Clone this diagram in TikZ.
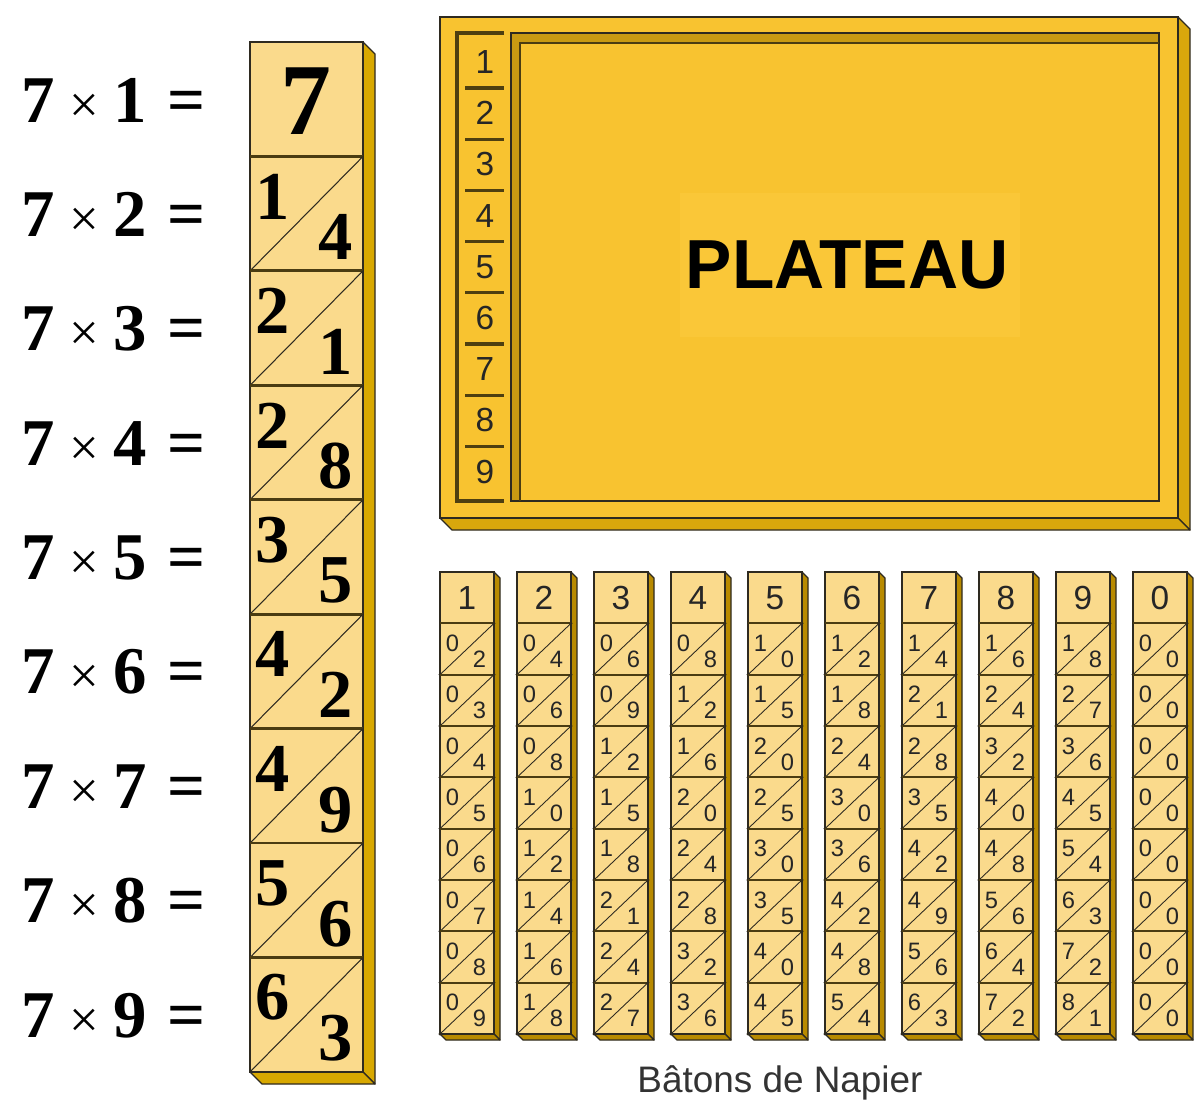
\documentclass[tikz,border=0pt]{standalone}
\usepackage{fontspec}
\newfontfamily\lsans{Liberation Sans}
\newfontfamily\lserif{Liberation Serif}
\definecolor{stickface}{HTML}{FADA8C}
\definecolor{stickside}{HTML}{D8A800}
\definecolor{smallside}{HTML}{B88A00}
\definecolor{plate}{HTML}{F8C330}
\definecolor{platehi}{HTML}{FAC738}
\definecolor{plateside}{HTML}{D8A70C}
\definecolor{groove}{HTML}{C99A12}
\definecolor{sepline}{HTML}{4A3C12}
\definecolor{stripcol}{HTML}{4E3F10}
\definecolor{outline}{HTML}{2E2A20}
\tikzset{
  face/.style={fill=stickface, draw=outline, line width=0.9pt},
  sideface/.style={fill=stickside, draw=outline, line width=0.7pt, line join=round},
  bigsep/.style={draw=sepline, line width=1.6pt},
  smallsep/.style={draw=sepline, line width=1.1pt},
  diag/.style={draw=outline, line width=0.6pt},
  stripline/.style={draw=stripcol, line width=1.8pt},
  lbl/.style={font=\lserif\bfseries\fontsize{38}{40}\selectfont, anchor=west, inner sep=0pt},
  bigdig/.style={font=\lserif\bfseries\fontsize{39}{40}\selectfont, inner sep=0pt},
  smalldig/.style={font=\lsans\fontsize{13.5}{14}\selectfont, inner sep=0pt, text=black!85},
  headdig/.style={font=\lsans\fontsize{19}{20}\selectfont, inner sep=0pt, text=black!85},
}
\newcommand{\smalltimes}{{\mdseries\fontsize{30}{32}\selectfont ×}}
\begin{document}
\begin{tikzpicture}[x=0.02cm,y=-0.02cm]
\useasboundingbox (0,0) rectangle (1200,1112);

% ---------- left labels ----------
\foreach \rr in {1,...,9} {
  \node[lbl] (lab\rr) at (21,{100+114.44*(\rr-1)}) {7\hspace{0.22em}\smalltimes\hspace{0.22em}\rr\hspace{0.3em}=};
}

% ---------- big stick ----------
\path[sideface] (363,42) -- (375,54) -- (375,1084) -- (363,1072) -- cycle;
\path[sideface] (250,1072) -- (262,1084) -- (375,1084) -- (363,1072) -- cycle;
\path[face] (250,42) rectangle (363,1072);
\foreach \rr in {1,...,8} {
  \draw[bigsep] (250,{42+114.44*\rr}) -- (363,{42+114.44*\rr});
  \draw[diag] (250,{42+114.44*(\rr+1)}) -- (363,{42+114.44*\rr});
}
\node[font=\lserif\bfseries\fontsize{58}{60}\selectfont, inner sep=0pt] (b1) at (306,101) {7};
\foreach \rr in {2,...,9} {
  \pgfmathtruncatemacro\pp{7*\rr}
  \pgfmathtruncatemacro\tn{floor(\pp/10)}
  \pgfmathtruncatemacro\un{\pp-10*\tn}
  \node[bigdig] (bt\rr) at (273,{42+114.44*(\rr-1)+40}) {\tn};
  \node[bigdig] (bu\rr) at (336,{42+114.44*(\rr-1)+81}) {\un};
}

% ---------- plateau ----------
\path[sideface, fill=plateside] (1178,17) -- (1190,29) -- (1190,530) -- (1178,518) -- cycle;
\path[sideface, fill=plateside] (440,518) -- (452,530) -- (1190,530) -- (1178,518) -- cycle;
\path[fill=plate, draw=outline, line width=0.9pt] (440,17) rectangle (1178,518);
\fill[groove] (511,33) -- (1159,33) -- (1159,43) -- (520,43) -- (520,501) -- (511,501) -- cycle;
\draw[outline, line width=1.2pt] (511,33) rectangle (1159,501);
\draw[sepline, line width=0.8pt] (520,501) -- (520,43) -- (1159,43);
\draw[stripline] (504,33) -- (457,33) -- (457,501) -- (504,501);
\foreach \ii in {1,...,8} {
  \draw[stripline] (465,{88+51.2*(\ii-1)}) -- (504,{88+51.2*(\ii-1)});
}
\foreach \ii in {1,...,9} {
  \node[headdig] (pn\ii) at (485,{62+51.2*(\ii-1)}) {\ii};
}
\fill[platehi] (680,193) rectangle (1020,337);
\node[font=\lsans\bfseries\fontsize{39.5}{42}\selectfont, inner sep=0pt] (plateau) at (847,265) {PLATEAU};

% ---------- small sticks ----------
\foreach \kk in {0,...,9} {
  \pgfmathsetmacro\L{440+77*\kk}
  \pgfmathtruncatemacro\dd{mod(\kk+1,10)}
  \path[sideface, fill=smallside] ({\L+54},572) -- ({\L+60},578) -- ({\L+60},1040) -- ({\L+54},1034) -- cycle;
  \path[sideface, fill=smallside] (\L,1034) -- ({\L+6},1040) -- ({\L+60},1040) -- ({\L+54},1034) -- cycle;
  \path[face, line width=0.8pt] (\L,572) rectangle ({\L+54},1034);
  \foreach \rr in {1,...,8} {
    \draw[smallsep] (\L,{572+51.33*\rr}) -- ({\L+54},{572+51.33*\rr});
    \draw[diag, line width=0.5pt] (\L,{572+51.33*(\rr+1)}) -- ({\L+54},{572+51.33*\rr});
    \fill[outline] ({\L+54},{572+51.33*\rr}) circle (0.9pt);
    \fill[outline] (\L,{572+51.33*(\rr+1)}) circle (0.9pt);
  }
  \node[headdig] (s\kk-h) at ({\L+27},598) {\dd};
  \foreach \rr in {2,...,9} {
    \pgfmathtruncatemacro\pp{\dd*\rr}
    \pgfmathtruncatemacro\tn{floor(\pp/10)}
    \pgfmathtruncatemacro\un{\pp-10*\tn}
    \node[smalldig] (s\kk-\rr-t) at ({\L+12.5},{572+51.33*(\rr-1)+20}) {\tn};
    \node[smalldig] (s\kk-\rr-u) at ({\L+39.5},{572+51.33*(\rr-1)+36}) {\un};
  }
}

% ---------- caption ----------
\node[font=\lsans\fontsize{21}{24}\selectfont, text=black!80, inner sep=0pt] (cap) at (780,1083) {Bâtons de Napier};
\end{tikzpicture}
\end{document}
